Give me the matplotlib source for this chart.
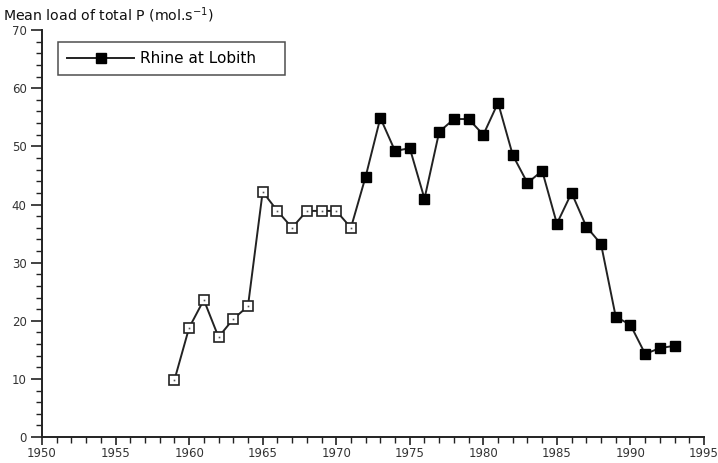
import numpy as np
import matplotlib
matplotlib.use("Agg")
import matplotlib.pyplot as plt
from matplotlib.ticker import MultipleLocator

plt.rcParams['font.family'] = ['DejaVu Sans']

# annual mean load of total P, Rhine at Lobith
years_open = [1959, 1960, 1961, 1962, 1963, 1964, 1965, 1966, 1967, 1968, 1969, 1970, 1971]
load_open = [9.8, 18.8, 23.6, 17.2, 20.3, 22.5, 42.2, 38.9, 36.0, 38.9, 38.9, 38.9, 36.0]
years_filled = [1972, 1973, 1974, 1975, 1976, 1977, 1978, 1979, 1980, 1981, 1982,
                1983, 1984, 1985, 1986, 1987, 1988, 1989, 1990, 1991, 1992, 1993]
load_filled = [44.8, 54.9, 49.2, 49.7, 41.0, 52.5, 54.7, 54.7, 52.0, 57.5, 48.5,
               43.7, 45.8, 36.7, 42.0, 36.2, 33.2, 20.7, 19.3, 14.3, 15.3, 15.7]
series_label = "Rhine at Lobith"

fig = plt.figure(figsize=(7.18, 4.63), dpi=100)
ax = fig.add_axes([0.0585, 0.056, 0.922, 0.879])

years = years_open + years_filled
load = load_open + load_filled
ax.plot(years, load, color='#222222', lw=1.4, zorder=1)
ax.plot(years_open, load_open, ls='none', marker='s', ms=7, mfc='white',
        mec='#222222', mew=1.2, zorder=2)
ax.plot(years_open, load_open, ls='none', marker='s', ms=1.2, mfc='#555555',
        mec='none', zorder=3)
ax.plot(years_filled, load_filled, ls='none', marker='s', ms=7.5, mfc='black',
        mec='black', zorder=2)

# legend entry drawn with the filled style
handle, = ax.plot([], [], color='#222222', lw=1.4, marker='s', ms=7.5,
                  mfc='black', mec='black')
leg = ax.legend([handle], [series_label + "    "], loc='upper left',
                bbox_to_anchor=(0.024, 0.9705), fontsize=11, frameon=True,
                fancybox=False, edgecolor='#222222', handlelength=4.4,
                borderpad=0.6, handletextpad=0.4, borderaxespad=0)
leg.get_frame().set_linewidth(1.1)

ax.set_xlim(1950, 1995)
ax.set_ylim(0, 70)
ax.xaxis.set_major_locator(MultipleLocator(5))
ax.xaxis.set_minor_locator(MultipleLocator(1))
ax.yaxis.set_major_locator(MultipleLocator(10))
ax.yaxis.set_minor_locator(MultipleLocator(2))

for side in ('top', 'right'):
    ax.spines[side].set_visible(False)
for side in ('left', 'bottom'):
    ax.spines[side].set_linewidth(1.4)
    ax.spines[side].set_color('#222222')

ax.tick_params(which='major', direction='out', width=1.2,
               colors='#222222', labelsize=8.5, labelcolor='#333333')
ax.tick_params(axis='y', which='major', length=8, pad=3)
ax.tick_params(axis='x', which='major', length=6, pad=1.5)
ax.tick_params(which='minor', direction='out', length=4, width=1.0,
               colors='#222222')

fig.text(0.004, 0.988, "Mean load of total P (mol.s$^{\\mathregular{-1}}$)",
         fontsize=10.2, color='#111111', ha='left', va='top')

fig.savefig("out.png", dpi=100)
